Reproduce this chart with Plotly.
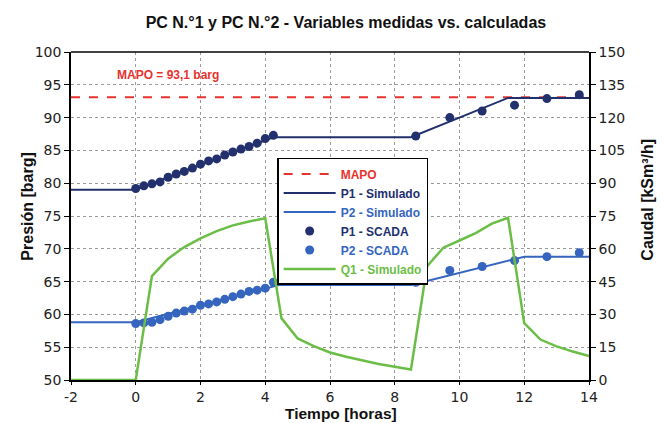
import plotly.graph_objects as go

# ---- data ----
mapo_x = [-2, 14]
mapo_y = [93.1, 93.1]

p1_sim_t = [-2, 0, 4.25, 8.5, 11.5, 14]
p1_sim_v = [79.0, 79.0, 87.0, 87.0, 93.0, 93.0]

p2_sim_t = [-2, 0, 4.45, 8.5, 12.0, 14]
p2_sim_v = [58.8, 58.8, 64.5, 64.5, 68.8, 68.8]

scada_t = [0, 0.25, 0.5, 0.75, 1.0, 1.25, 1.5, 1.75, 2.0, 2.25, 2.5, 2.75, 3.0,
           3.25, 3.5, 3.75, 4.0, 4.25, 8.65, 9.7, 10.7, 11.7, 12.7, 13.7]
p1_scada = [79.2, 79.6, 79.9, 80.2, 80.9, 81.4, 81.8, 82.3, 82.9, 83.4, 83.7, 84.3,
            84.75, 85.2, 85.6, 86.1, 86.8, 87.3, 87.2, 90.0, 91.0, 91.9, 92.9, 93.5]
p2_scada = [58.6, 58.7, 58.8, 59.2, 59.7, 60.2, 60.5, 60.8, 61.4, 61.6, 61.9, 62.3,
            62.7, 63.1, 63.5, 63.7, 64.0, 64.9, 64.9, 66.7, 67.3, 68.2, 68.8, 69.4]

q1_t = [-2, 0, 0.5, 1.0, 1.5, 2.0, 2.5, 3.0, 3.5, 4.0, 4.5, 5.0, 5.5, 6.0, 6.5, 7.0,
        7.5, 8.0, 8.5, 9.0, 9.5, 10.0, 10.5, 11.0, 11.5, 12.0, 12.5, 13.0, 13.5, 14.0]
q1_v = [0, 0, 47.5, 55.5, 60.8, 64.8, 68.1, 70.7, 72.5, 74.0, 28.3, 19.0, 15.5, 12.6,
        10.6, 8.9, 7.3, 6.1, 4.8, 52.0, 60.5, 63.8, 67.2, 71.5, 74.2, 26.0, 18.5, 15.4,
        13.0, 11.0]

x_ticks = [-2, 0, 2, 4, 6, 8, 10, 12, 14]
x_tick_labels = ["-2", "0", "2", "4", "6", "8", "10", "12", "14"]
y_ticks = [50, 55, 60, 65, 70, 75, 80, 85, 90, 95, 100]
y2_ticks = [0, 15, 30, 45, 60, 75, 90, 105, 120, 135, 150]

RED = "#E8322E"
NAVY = "#23306E"
BLUE = "#3565BE"
GREEN = "#6BBE45"

def lg(text, color):
    return f"<span style='color:{color}'><b>{text}</b></span>"

fig = go.Figure()
fig.add_trace(go.Scatter(x=mapo_x, y=mapo_y, mode="lines", name=lg("MAPO", RED),
                         line=dict(color=RED, width=2, dash="dash")))
fig.add_trace(go.Scatter(x=p1_sim_t, y=p1_sim_v, mode="lines", name=lg("P1 - Simulado", NAVY),
                         line=dict(color=NAVY, width=2)))
fig.add_trace(go.Scatter(x=p2_sim_t, y=p2_sim_v, mode="lines", name=lg("P2 - Simulado", BLUE),
                         line=dict(color=BLUE, width=2)))
fig.add_trace(go.Scatter(x=scada_t, y=p1_scada, mode="markers", name=lg("P1 - SCADA", NAVY),
                         marker=dict(color=NAVY, size=9)))
fig.add_trace(go.Scatter(x=scada_t, y=p2_scada, mode="markers", name=lg("P2 - SCADA", BLUE),
                         marker=dict(color=BLUE, size=9)))
fig.add_trace(go.Scatter(x=q1_t, y=q1_v, mode="lines", name=lg("Q1 - Simulado", GREEN),
                         line=dict(color=GREEN, width=2.5), yaxis="y2"))

TF = "Liberation Sans, Arial, sans-serif"
TITLE_FONT = dict(family=TF, size=16, color="#111")

fig.add_annotation(x=-0.63, y=96.5, xref="x", yref="y", xanchor="left", yanchor="middle",
                   text="<b>MAPO = 93,1 barg</b>", showarrow=False,
                   font=dict(color=RED, size=12, family=TF))

# axis titles
fig.add_annotation(x=-0.084, y=0.53, xref="paper", yref="paper", textangle=-90,
                   xanchor="center", yanchor="middle", showarrow=False,
                   text="<b>Presión [barg]</b>", font=TITLE_FONT)
fig.add_annotation(x=1.114, y=0.55, xref="paper", yref="paper", textangle=-90,
                   xanchor="center", yanchor="middle", showarrow=False,
                   text="<b>Caudal [kSm³/h]</b>", font=TITLE_FONT)
fig.add_annotation(x=0.521, y=-0.101, xref="paper", yref="paper",
                   xanchor="center", yanchor="middle", showarrow=False,
                   text="<b>Tiempo [horas]</b>", font=dict(family=TF, size=15.5, color="#111"))

# page body has an 8px margin: figure is 660x415 so it fills the 668x423 window
fig.update_layout(
    width=660, height=415,
    margin=dict(l=63, r=79, t=44, b=43, autoexpand=False),
    paper_bgcolor="white", plot_bgcolor="white",
    font=dict(family="DejaVu Sans, sans-serif", size=14, color="#222"),
    title=dict(text="<b>PC N.°1 y PC N.°2 - Variables medidas vs. calculadas</b>",
               x=0.512, xanchor="center", y=0.965, yanchor="middle",
               font=dict(family=TF, size=16, color="#111")),
    showlegend=True,
    legend=dict(x=0.398, y=0.677, xanchor="left", yanchor="top",
                bgcolor="white", bordercolor="black", borderwidth=1.5,
                font=dict(family=TF, size=12), tracegroupgap=0, itemwidth=52),
    xaxis=dict(range=[-2, 14], tickvals=x_ticks, ticktext=x_tick_labels, showgrid=True,
               gridcolor="#9a9a9a", automargin=False,
               griddash="dot", gridwidth=1, zeroline=False, showline=True,
               linecolor="black", linewidth=2, mirror=False, ticks="outside", ticklen=3,
               tickcolor="black"),
    yaxis=dict(range=[50, 100], tickvals=y_ticks, showgrid=True, gridcolor="#9a9a9a",
               griddash="dot", gridwidth=1, zeroline=False, showline=True, automargin=False,
               linecolor="black", linewidth=1.5, ticks="outside", ticklen=5, tickcolor="black"),
    yaxis2=dict(range=[0, 150], tickvals=y2_ticks, overlaying="y", side="right",
                showgrid=False, zeroline=False, showline=True, linecolor="black", linewidth=1.5,
                ticks="outside", ticklen=5, tickcolor="black", automargin=False),
)
fig.add_shape(type="line", xref="paper", yref="paper", x0=0, x1=1, y0=1, y1=1,
              line=dict(color="black", width=1.5))

fig.write_html("out.html")
